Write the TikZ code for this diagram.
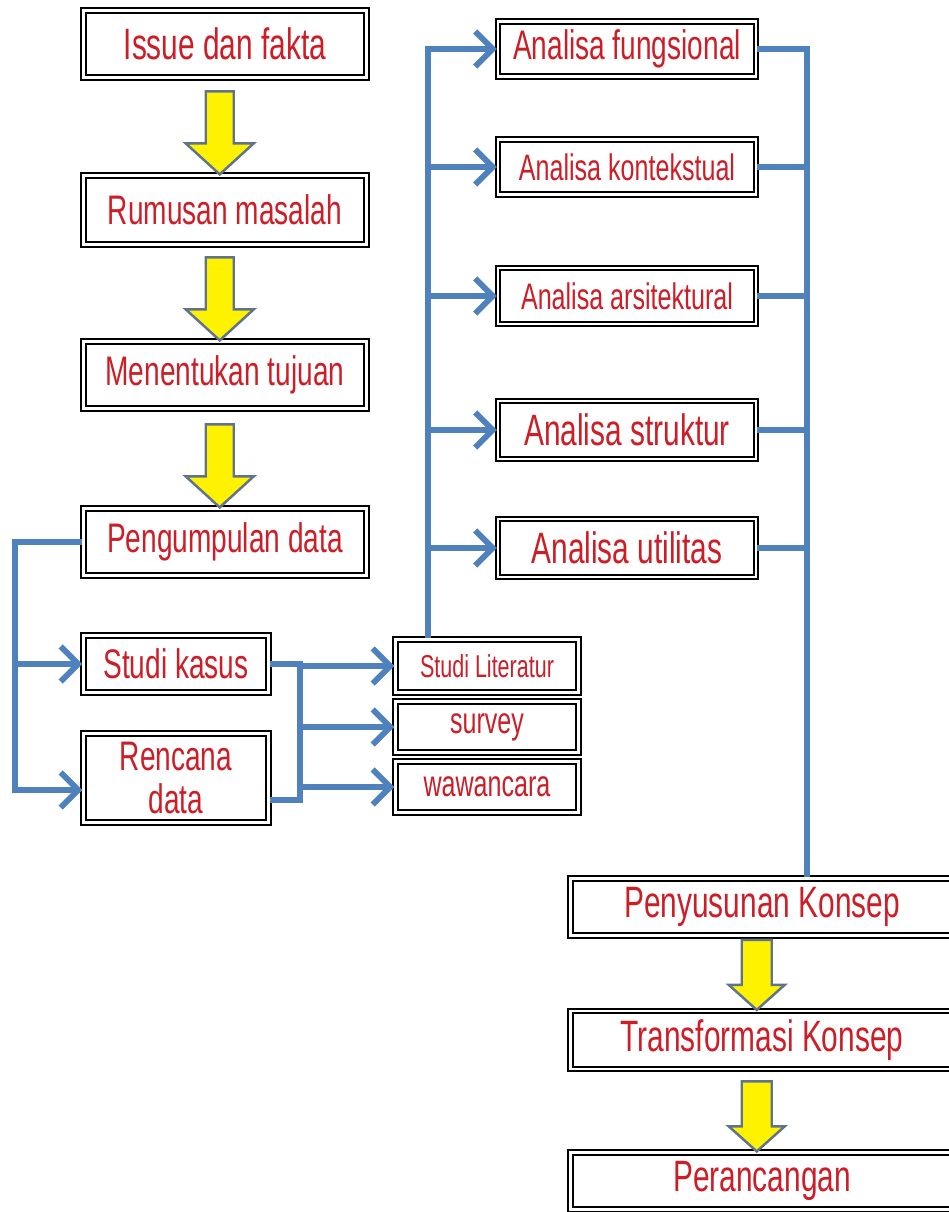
\documentclass[tikz,border=0pt]{standalone}
\usepackage{fontspec}
\setmainfont[FakeStretch=0.68]{Liberation Sans}
\usetikzlibrary{arrows.meta,calc}
\definecolor{textred}{RGB}{205,30,40}
\definecolor{linkblue}{RGB}{79,129,189}
\definecolor{arrowedge}{RGB}{95,115,140}

\begin{document}
\begin{tikzpicture}[x=0.02cm,y=-0.02cm]
        \tikzstyle{every node}=[font=\fontsize{24}{24}\selectfont]
        \tikzstyle{box}=[draw=black, double=white, line width=1.3pt, double distance=1.3pt, fill=white, text=textred, align=center, inner sep=0pt]
        \tikzstyle{leftbox}=[box, minimum width=5.66cm, minimum height=1.34cm]
        \tikzstyle{midbox}=[box, minimum width=3.7cm]
        \tikzstyle{databox}=[box, minimum width=3.66cm]
        \tikzstyle{anabox}=[box, minimum width=5.16cm]
        \tikzstyle{conbox}=[box, minimum width=7.66cm]
        \tikzstyle{bigtext}=[font=\fontsize{25}{25}\selectfont]
        \tikzstyle{midtext}=[font=\fontsize{23.5}{24}\selectfont]
        \tikzstyle{smalltext}=[font=\fontsize{21}{21}\selectfont]
        \tikzstyle{tinytext}=[font=\fontsize{18}{18}\selectfont]
        \tikzstyle{bus}=[draw=linkblue, line width=3.3pt]
        \tikzstyle{feed}=[bus, -{Straight Barb[length=10pt,width=20pt]}]
        \tikzstyle{yarrow}=[draw=arrowedge, fill=yellow, line width=1.4pt]

        \useasboundingbox (0,0) rectangle (948,1212);

        \node[leftbox, bigtext] (issue) at (225,44) {Issue dan fakta};
        \node[leftbox, midtext, minimum height=1.38cm] (rumusan) at (225,210) {Rumusan masalah};
        \node[leftbox, midtext] (tujuan) at (225,375) {Menentukan tujuan};
        \node[leftbox, midtext] (kumpul) at (225,542) {Pengumpulan data};

        \node[midbox, midtext, minimum height=1.14cm] (kasus) at (176,664) {Studi kasus};
        \node[midbox, midtext, minimum height=1.78cm] (rencana) at (176,778) {Rencana\\data};

        \node[databox, tinytext, minimum height=1.06cm] (literatur) at (487,666) {Studi Literatur};
        \node[databox, smalltext, minimum height=1.02cm] (survey) at (487,727) {survey};
        \node[databox, smalltext, minimum height=1.02cm] (wawancara) at (487,787) {wawancara};

        \node[anabox, midtext, minimum height=1.1cm] (fungsional) at (627,49) {Analisa fungsional};
        \node[anabox, smalltext, minimum height=1.1cm] (kontekstual) at (627,167) {Analisa kontekstual};
        \node[anabox, smalltext, minimum height=1.12cm] (arsitektural) at (627,296) {Analisa arsitektural};
        \node[anabox, bigtext, minimum height=1.16cm] (struktur) at (627,430) {Analisa struktur};
        \node[anabox, bigtext, minimum height=1.16cm] (utilitas) at (627,548) {Analisa utilitas};

        \node[conbox, bigtext, minimum height=1.14cm] (penyusun) at (762,907) {Penyusunan Konsep};
        \node[conbox, bigtext, minimum height=1.16cm] (transformasi) at (762,1040) {Transformasi Konsep};
        \node[conbox, bigtext, minimum height=1.14cm] (perancangan) at (762,1181) {Perancangan};

        \coordinate (lbus) at (15,0);
        \coordinate (mbus) at (300,0);
        \coordinate (abus) at (428,0);
        \coordinate (rbus) at (807,0);
        \coordinate (rin) at ($(rencana.west)+(0,12)$);
        \coordinate (rout) at ($(rencana.east)+(0,22)$);

        \draw[yarrow] ([xshift=-3pt]rumusan.north) -- ++(-34,-31) -- ++(20,0) -- ++(0,-52) -- ++(28,0) -- ++(0,52) -- ++(20,0) -- cycle;
        \draw[yarrow] ([xshift=-3pt]tujuan.north) -- ++(-34,-31) -- ++(20,0) -- ++(0,-52) -- ++(28,0) -- ++(0,52) -- ++(20,0) -- cycle;
        \draw[yarrow] ([xshift=-3pt]kumpul.north) -- ++(-34,-31) -- ++(20,0) -- ++(0,-52) -- ++(28,0) -- ++(0,52) -- ++(20,0) -- cycle;
        \draw[yarrow] ([xshift=-3pt]transformasi.north) -- ++(-28,-25) -- ++(13,0) -- ++(0,-45) -- ++(30,0) -- ++(0,45) -- ++(13,0) -- cycle;
        \draw[yarrow] ([xshift=-3pt]perancangan.north) -- ++(-28,-25) -- ++(13,0) -- ++(0,-45) -- ++(30,0) -- ++(0,45) -- ++(13,0) -- cycle;

        \draw[feed] (kumpul.west) -| (lbus |- rin) -- (rin);
        \draw[feed] (lbus |- kasus.west) -- (kasus.west);

        \draw[bus] (kasus.east) -| (mbus |- rout) -- (rout);
        \draw[feed] (mbus |- literatur.west) -- (literatur.west);
        \draw[feed] (mbus |- survey.west) -- (survey.west);
        \draw[feed] (mbus |- wawancara.west) -- (wawancara.west);

        \draw[feed] (abus |- literatur.north) |- (fungsional.west);
        \draw[feed] (abus |- kontekstual.west) -- (kontekstual.west);
        \draw[feed] (abus |- arsitektural.west) -- (arsitektural.west);
        \draw[feed] (abus |- struktur.west) -- (struktur.west);
        \draw[feed] (abus |- utilitas.west) -- (utilitas.west);

        \draw[bus] (fungsional.east) -| (rbus |- penyusun.north);
        \draw[bus] (kontekstual.east) -- (rbus |- kontekstual.east);
        \draw[bus] (arsitektural.east) -- (rbus |- arsitektural.east);
        \draw[bus] (struktur.east) -- (rbus |- struktur.east);
        \draw[bus] (utilitas.east) -- (rbus |- utilitas.east);
\end{tikzpicture}
\end{document}
